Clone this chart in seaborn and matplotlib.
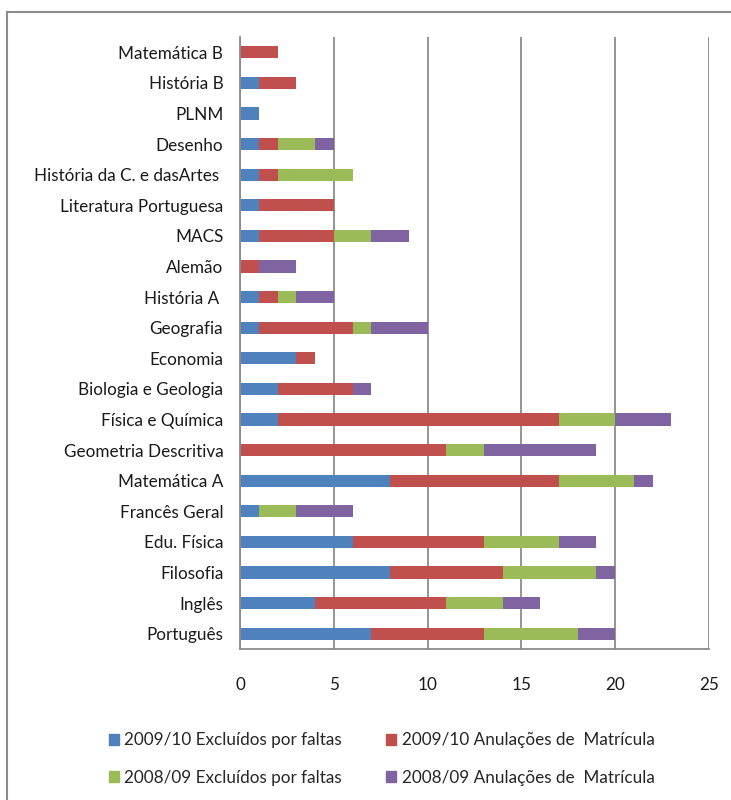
import matplotlib
matplotlib.use("Agg")
import matplotlib.pyplot as plt
import matplotlib.patches as mpatches
import seaborn as sns
import pandas as pd
import numpy as np

categories = [
    "Matemática B", "História B", "PLNM", "Desenho", "História da C. e dasArtes ",
    "Literatura Portuguesa", "MACS", "Alemão", "História A ", "Geografia",
    "Economia", "Biologia e Geologia", "Física e Química", "Geometria Descritiva",
    "Matemática A", "Francês Geral", "Edu. Física", "Filosofia", "Inglês", "Português",
]
excl_0910 = [0, 1, 1, 1, 1, 1, 1, 0, 1, 1, 3, 2, 2, 0, 8, 1, 6, 8, 4, 7]
anul_0910 = [2, 2, 0, 1, 1, 4, 4, 1, 1, 5, 1, 4, 15, 11, 9, 0, 7, 6, 7, 6]
excl_0809 = [0, 0, 0, 2, 4, 0, 2, 0, 1, 1, 0, 0, 3, 2, 4, 2, 4, 5, 3, 5]
anul_0809 = [0, 0, 0, 1, 0, 0, 2, 2, 2, 3, 0, 1, 3, 6, 1, 3, 2, 1, 2, 2]
series_names = [
    "2009/10 Excluídos por faltas",
    "2009/10 Anulações de  Matrícula",
    "2008/09 Excluídos por faltas",
    "2008/09 Anulações de  Matrícula",
]
colors = ["#4F81BD", "#C0504D", "#9BBB59", "#8064A2"]

df = pd.DataFrame({
    "cat": categories,
    "s1": excl_0910, "s2": anul_0910, "s3": excl_0809, "s4": anul_0809,
})
df["c1"] = df["s1"]
df["c2"] = df["c1"] + df["s2"]
df["c3"] = df["c2"] + df["s3"]
df["c4"] = df["c3"] + df["s4"]

sns.set_theme(style="white")
plt.rcParams["font.family"] = ["Lato", "DejaVu Sans"]

fig = plt.figure(figsize=(7.31, 8.0), dpi=100)
ax = fig.add_axes([240 / 731, 1 - 649 / 800, (709 - 240) / 731, (649 - 37) / 800])

for col, color in zip(["c4", "c3", "c2", "c1"], colors[::-1]):
    sns.barplot(data=df, x=col, y="cat", order=categories, color=color,
                width=0.4, saturation=1, ax=ax, orient="h", linewidth=0)

ax.set_xlim(0, 25)
ax.set_ylim(len(categories) - 0.5, -0.5)
ax.set_xticks([0, 5, 10, 15, 20, 25])
ax.set_xlabel("")
ax.set_ylabel("")
ax.xaxis.grid(True, color="#8C8C8C", linewidth=1.3)
ax.set_axisbelow(True)
for side in ["top", "right"]:
    ax.spines[side].set_visible(False)
for side in ["left", "bottom"]:
    ax.spines[side].set_color("#8C8C8C")
    ax.spines[side].set_linewidth(1.3)
ax.tick_params(axis="y", length=0, pad=12, labelsize=12.3, labelcolor="#1a1a1a")
ax.tick_params(axis="x", length=0, pad=20, labelsize=12.3, labelcolor="#1a1a1a")

order = [0, 2, 1, 3]
handles = [mpatches.Patch(color=colors[i], label=series_names[i]) for i in order]
fig.legend(handles=handles, ncol=2, loc="center", bbox_to_anchor=(0.522, 1 - 759 / 800),
           frameon=False, fontsize=12.3, handlelength=0.6, handleheight=0.6,
           handletextpad=0.3, columnspacing=2.6, labelspacing=1.25)

frame = mpatches.Rectangle((7 / 731, -0.05), 1.2, 1 - 12 / 800 + 0.05,
                           transform=fig.transFigure, fill=False,
                           edgecolor="#8C8C8C", linewidth=1.5, clip_on=False)
fig.patches.append(frame)

fig.savefig("out.png", dpi=100)
